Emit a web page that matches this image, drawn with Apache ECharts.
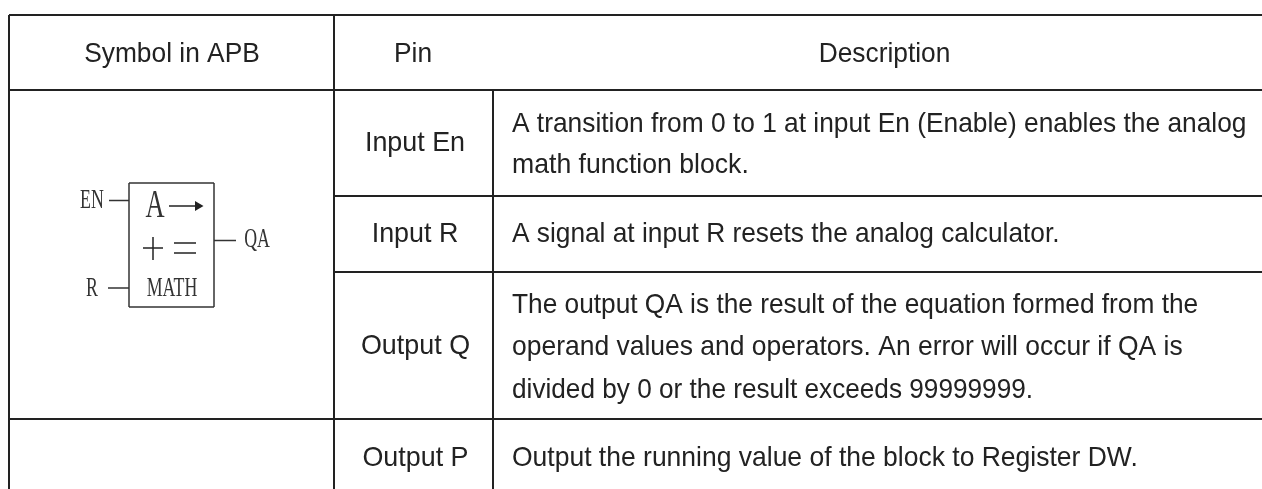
<!DOCTYPE html>
<html>
<head>
<meta charset="utf-8">
<style>
  html, body { margin: 0; padding: 0; background: #fff; }
  #main { width: 1262px; height: 489px; }
</style>
<script src="https://cdn.jsdelivr.net/npm/echarts@6/dist/echarts.min.js"></script>
</head>
<body>
<div id="main"></div>
<script>
// table grid, in axis units (the axes map 1:1 onto the page)
var hRules = [[9, 1262, 15], [9, 1262, 90], [334, 1262, 196], [334, 1262, 272], [9, 1262, 419]];
var vRules = [[9, 15, 489], [334, 15, 489], [493, 90, 489]];

// cell text: [text, x, y]
var headers = [['Symbol in APB', 172, 54], ['Pin', 413, 54], ['Description', 884.5, 54]];
var pins = [['Input En', 415, 143], ['Input R', 415, 234], ['Output Q', 415.5, 346], ['Output P', 415.5, 458]];
var descLines = [
  ['A transition from 0 to 1 at input En (Enable) enables the analog', 512, 124],
  ['math function block.', 512, 165],
  ['A signal at input R resets the analog calculator.', 512, 234],
  ['The output QA is the result of the equation formed from the', 512, 305],
  ['operand values and operators. An error will occur if QA is', 512, 347],
  ['divided by 0 or the result exceeds 99999999.', 512, 390],
  ['Output the running value of the block to Register DW.', 512, 458]
];
// the source text is set a bit uneven, so each line gets its own squeeze
var descSqueeze = [0.94, 0.951, 0.938, 0.938, 0.945, 0.935, 0.946];

// function block symbol
var symbolBox = [[129, 183], [214, 307]];
var symbolWires = [[109, 200.5, 129, 200.5], [108, 288, 129, 288], [214, 240.5, 236, 240.5]];
var symbolGlyphs = [[169, 206, 196, 206], [143, 248, 163, 248], [174, 243, 196, 243], [174, 253, 196, 253], [153, 237, 153, 260]];
var arrowHead = [[195, 201], [203.5, 206], [195, 211]];
var symbolLabels = [['EN', 92, 201, 27], ['R', 92, 289, 27], ['QA', 257, 240, 27], ['MATH', 172, 289, 27], ['A', 155, 206, 40]];

var chart = echarts.init(document.getElementById('main'));

function ruleSeries(data, color, width) {
  return {
    type: 'custom',
    coordinateSystem: 'cartesian2d',
    silent: true,
    data: data,
    encode: { x: [0, 2], y: [1, 3] },
    renderItem: function (params, api) {
      var a = api.coord([api.value(0), api.value(1)]);
      var b = api.coord([api.value(2), api.value(3)]);
      return {
        type: 'line',
        shape: { x1: a[0], y1: a[1], x2: b[0], y2: b[1] },
        style: { stroke: color, lineWidth: width }
      };
    }
  };
}

function polygonSeries(points, color) {
  return {
    type: 'custom',
    coordinateSystem: 'cartesian2d',
    silent: true,
    data: [points.reduce(function (a, b) { return a.concat(b); }, [])],
    encode: { x: [0, 2, 4], y: [1, 3, 5] },
    renderItem: function (params, api) {
      return {
        type: 'polygon',
        shape: { points: points.map(function (p) { return api.coord(p); }) },
        style: { fill: color }
      };
    }
  };
}

function textSeries(rows, fontFamily, scaleX, align, size, color) {
  return {
    type: 'custom',
    coordinateSystem: 'cartesian2d',
    silent: true,
    data: rows.map(function (r) { return [r[1], r[2], r[3] || size, r[0]]; }),
    encode: { x: 0, y: 1 },
    renderItem: function (params, api) {
      var p = api.coord([api.value(0), api.value(1)]);
      return {
        type: 'text',
        x: p[0],
        y: p[1],
        scaleX: Array.isArray(scaleX) ? scaleX[params.dataIndex] : scaleX,
        style: {
          text: api.value(3),
          fill: color,
          font: api.value(2) + 'px ' + fontFamily,
          textAlign: align,
          textVerticalAlign: 'middle'
        }
      };
    }
  };
}

var sans = '"Liberation Sans", sans-serif';
var serif = '"Liberation Serif", serif';

var horizontal = hRules.map(function (r) { return [r[0], r[2], r[1], r[2]]; });
var vertical = vRules.map(function (r) { return [r[0], r[1], r[0], r[2]]; });
var box = [
  [symbolBox[0][0], symbolBox[0][1], symbolBox[1][0], symbolBox[0][1]],
  [symbolBox[1][0], symbolBox[0][1], symbolBox[1][0], symbolBox[1][1]],
  [symbolBox[1][0], symbolBox[1][1], symbolBox[0][0], symbolBox[1][1]],
  [symbolBox[0][0], symbolBox[1][1], symbolBox[0][0], symbolBox[0][1]]
];

chart.setOption({
  animation: false,
  backgroundColor: '#fff',
  grid: { left: 0, right: 0, top: 0, bottom: 0 },
  xAxis: { type: 'value', min: 0, max: 1262, show: false },
  yAxis: { type: 'value', min: 0, max: 489, inverse: true, show: false },
  series: [
    ruleSeries(horizontal, '#222', 2),
    ruleSeries(vertical, '#222', 2),
    ruleSeries(box, '#333', 1.5),
    ruleSeries(symbolWires, '#333', 1.5),
    ruleSeries(symbolGlyphs, '#222', 1.5),
    polygonSeries(arrowHead, '#222'),
    textSeries(headers, sans, 0.94, 'center', 28, '#222'),
    textSeries(pins, sans, 0.96, 'center', 28, '#222'),
    textSeries(descLines, sans, descSqueeze, 'left', 28, '#222'),
    textSeries(symbolLabels, serif, 0.66, 'center', 27, '#333')
  ]
});
</script>
</body>
</html>
